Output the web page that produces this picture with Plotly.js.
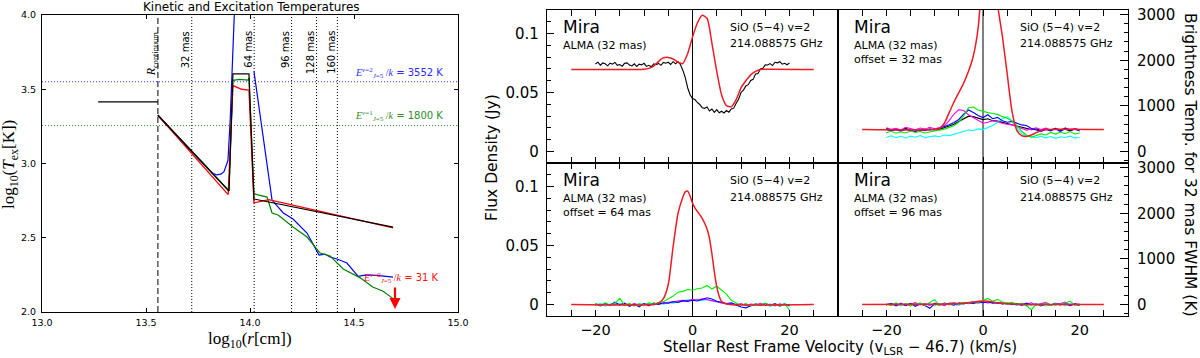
<!DOCTYPE html>
<html>
<head>
<meta charset="utf-8">
<script src="https://cdn.plot.ly/plotly-3.0.1.min.js"></script>
<style>html,body{margin:0;padding:0;background:#fff;}#chart{width:1200px;height:358px;}</style>
</head>
<body>
<div id="chart"></div>
<script>
// ---------------- Left panel data (log10 r [cm] vs log10 T [K]) ----------------
const rContinuum = 13.557;
const masLabels = ['32 mas', '64 mas', '96 mas', '128 mas', '160 mas'];
const masLogR = [13.72, 14.02, 14.20, 14.32, 14.42];
const E_v2 = 3552, E_v1 = 1800, E_v0 = 31;

const starX = [13.27, 13.557];
const starY = [3.415, 3.415];

const blackX = [13.557, 13.899, 13.918, 13.995, 14.019, 14.688];
const blackY = [3.325, 2.815, 3.603, 3.603, 2.761, 2.572];

const redX = [13.557, 13.895, 13.918, 13.94, 13.96, 13.995, 14.019, 14.09, 14.688];
const redY = [3.325, 2.79, 3.525, 3.51, 3.50, 3.495, 2.735, 2.757, 2.566];

const greenX = [13.557, 13.899, 13.918, 13.95, 13.99, 13.995, 14.019, 14.05, 14.082, 14.106, 14.135, 14.207, 14.274, 14.337, 14.385, 14.448, 14.53, 14.59, 14.64, 14.688];
const greenY = [3.325, 2.815, 3.56, 3.566, 3.562, 3.575, 2.795, 2.785, 2.774, 2.667, 2.653, 2.572, 2.505, 2.397, 2.377, 2.29, 2.23, 2.168, 2.14, 2.09];

const blueX = [13.557, 13.79, 13.82, 13.84, 13.86, 13.875, 13.894, 13.905, 13.921, 13.93, null, 14.019, 14.072, 14.085, 14.106, 14.16, 14.207, 14.274, 14.332, 14.36, 14.385, 14.418, 14.466, 14.52, 14.56, 14.62, 14.66, 14.688];
const blueY = [3.325, 2.978, 2.935, 2.923, 2.928, 2.945, 3.02, 3.3, 4.0, 4.2, null, 3.62, 3.09, 2.95, 2.754, 2.667, 2.626, 2.532, 2.384, 2.39, 2.37, 2.357, 2.33, 2.24, 2.25, 2.245, 2.24, 2.235];

// ---------------- Right panels data (velocity km/s vs flux Jy) ----------------
const panelOffsets = ['', 'offset = 32 mas', 'offset = 64 mas', 'offset = 96 mas'];
const jyToK = 25840; // brightness temperature per Jy for 32 mas FWHM beam

const vFine = [-20,-19.5,-19,-18.5,-18,-17.5,-17,-16.5,-16,-15.5,-15,-14.5,-14,-13.5,-13,-12.5,-12,-11.5,-11,-10.5,-10,-9.5,-9,-8.5,-8,-7.5,-7,-6.5,-6,-5.5,-5,-4.5,-4,-3.5,-3,-2.5,-2,-1.5,-1,-0.5,0,0.5,1,1.5,2,2.5,3,3.5,4,4.5,5,5.5,6,6.5,7,7.5,8,8.5,9,9.5,10,10.5,11,11.5,12,12.5,13,13.5,14,14.5,15,15.5,16,16.5,17,17.5,18,18.5,19,19.5,20];
const obsTL = [
 .0742,.0758,.0733,.0751,.0744,.0727,.0749,.0741,.0756,.0731,
 .0738,.0724,.0748,.0752,.0733,.0726,.0744,.0721,.0741,.0735,
 .0748,.0722,.0731,.0719,.0744,.0736,.0747,.0731,.0755,.0749,
 .0757,.0738,.0762,.0744,.0763,.0738,.0690,.0628,.0541,.0482,
 .0449,.0441,.0416,.0399,.0372,.0366,.0378,.0344,.0361,.0333,
 .0356,.0329,.0342,.0327,.0348,.0334,.0361,.0368,.0409,.0444,
 .0501,.0521,.0556,.0567,.0603,.0612,.0657,.0662,.0701,.0706,
 .0735,.0734,.0746,.0729,.0757,.0752,.0762,.0741,.0748,.0736,.0752];

const vObs = [-20,-19,-18,-17,-16,-15,-14,-13,-12,-11,-10,-9,-8,-7,-6,-5,-4,-3,-2,-1,0,1,2,3,4,5,6,7,8,9,10,11,12,13,14,15,16,17,18,19,20];

const blackTR = [.0188,.0176,.0192,.0181,.0196,.0179,.0187,.0174,.0190,.0183,
 .0195,.0189,.0201,.0214,.0232,.0255,.0281,.0300,.0296,.0285,
 .0271,.0278,.0262,.0258,.0247,.0236,.0228,.0214,.0205,.0197,
 .0186,.0193,.0178,.0191,.0183,.0197,.0180,.0189,.0176,.0192,.0185];
const blueTR = [.0195,.0178,.0186,.0172,.0190,.0181,.0169,.0185,.0178,.0192,
 .0183,.0197,.0210,.0228,.0246,.0272,.0318,.0352,.0331,.0305,
 .0288,.0312,.0278,.0290,.0262,.0249,.0256,.0238,.0226,.0221,
 .0196,.0183,.0171,.0188,.0176,.0194,.0170,.0198,.0181,.0189,.0175];
const greenTR = [.0160,.0172,.0155,.0168,.0158,.0174,.0162,.0170,.0157,.0169,
 .0175,.0182,.0190,.0205,.0218,.0250,.0301,.0372,.0378,.0352,
 .0338,.0330,.0322,.0315,.0296,.0282,.0258,.0221,.0172,.0138,
 .0121,.0133,.0150,.0141,.0162,.0148,.0166,.0152,.0170,.0149,.0158];
const magentaTR = [.0201,.0188,.0196,.0183,.0205,.0192,.0185,.0199,.0190,.0206,
 .0194,.0203,.0218,.0262,.0318,.0355,.0348,.0312,.0286,.0262,
 .0240,.0248,.0261,.0255,.0238,.0231,.0226,.0210,.0195,.0182,
 .0190,.0201,.0187,.0198,.0183,.0196,.0185,.0200,.0188,.0194,.0182];
const cyanTR = [.0120,.0134,.0118,.0129,.0115,.0131,.0122,.0136,.0119,.0128,
 .0133,.0126,.0140,.0135,.0148,.0156,.0170,.0182,.0178,.0192,
 .0186,.0205,.0221,.0248,.0279,.0296,.0262,.0198,.0152,.0131,
 .0124,.0118,.0130,.0116,.0127,.0112,.0125,.0119,.0131,.0114,.0122];

const greenBL = [.0012,-.0008,.0015,-.0004,.0009,.0052,-.0006,.0011,-.0012,.0007,
 -.0003,.0014,.0004,.0018,.0025,.0048,.0072,.0105,.0112,.0128,
 .0121,.0134,.0140,.0162,.0131,.0155,.0118,.0088,.0035,.0012,
 -.0005,.0009,-.0011,.0006,-.0002,.0013,-.0009,.0004,-.0014,.0008,-.0048];
const blueBL = [.0006,-.0012,.0009,-.0005,.0021,-.0003,.0010,-.0016,.0004,-.0020,
 .0008,-.0007,.0012,.0002,.0015,.0011,.0024,.0019,.0031,.0027,
 .0036,.0030,.0042,.0058,.0047,.0028,.0019,.0009,.0014,-.0004,
 -.0021,-.0028,-.0010,.0006,-.0008,.0011,-.0005,.0009,-.0013,.0004,-.0009];
const cyanBL = [-.0008,.0010,-.0014,.0006,-.0003,.0013,-.0009,.0004,-.0011,.0008,
 -.0002,.0011,-.0006,.0009,.0003,.0016,.0012,.0025,.0029,.0041,
 .0038,.0046,.0035,.0044,.0031,.0022,.0014,.0006,-.0004,.0009,
 -.0007,.0005,-.0012,.0002,-.0010,.0007,-.0015,.0003,-.0006,.0010,-.0017];
const magentaBL = [.0004,-.0006,.0011,-.0010,.0007,-.0002,.0013,-.0007,.0009,-.0004,
 .0006,-.0011,.0010,.0005,.0012,.0018,.0023,.0030,.0037,.0033,
 .0045,.0039,.0048,.0041,.0034,.0025,.0013,.0008,.0002,-.0006,
 .0008,-.0009,.0005,-.0003,.0010,-.0008,.0004,-.0011,.0007,-.0004,.0002];

const greenBR = [.0005,-.0010,.0012,-.0004,.0008,-.0013,.0006,.0010,-.0006,.0015,
 .0042,-.0008,.0011,-.0003,.0014,.0007,.0019,.0012,.0026,.0018,
 .0035,.0052,.0028,.0044,.0021,.0012,.0018,.0003,.0011,-.0008,
 -.0045,.0006,-.0005,.0012,-.0009,.0008,-.0004,.0010,.0030,-.0006,.0004];
const blueBR = [-.0004,.0009,-.0012,.0006,-.0007,.0011,-.0015,.0004,-.0009,-.0032,
 .0008,-.0005,.0012,.0001,-.0006,.0014,.0006,.0017,.0009,.0021,
 .0015,.0024,.0011,.0018,.0006,.0013,-.0002,.0009,-.0007,.0012,
 -.0004,.0007,-.0011,.0005,-.0006,.0010,-.0003,.0008,-.0010,.0004,-.0005];
const cyanBR = [.0008,-.0005,.0014,-.0011,.0003,.0009,-.0006,.0015,-.0003,.0007,
 -.0012,.0010,-.0004,.0013,.0005,-.0007,.0012,.0020,.0008,.0024,
 .0017,.0022,.0013,.0007,.0016,.0002,.0010,-.0009,.0005,-.0013,
 .0003,-.0006,.0011,-.0014,.0002,-.0008,.0009,-.0012,.0006,-.0003,-.0010];
const magentaBR = [-.0002,.0011,-.0007,.0013,-.0010,.0005,.0016,-.0004,.0009,-.0008,
 .0012,.0003,-.0009,.0010,.0017,.0004,.0015,.0008,.0019,.0011,
 .0022,.0014,.0020,.0009,.0017,.0005,.0013,-.0002,.0011,.0004,
 .0015,-.0005,.0008,.0018,-.0003,.0010,.0006,.0021,-.0004,.0009,.0003];

const vModelTL = [-25,-12,-10,-9,-8,-7,-6,-5,-4,-3,-2,-1,0,1,2,3,4,5,6,7,8,9,10,11,12,13,14,15,25];
const modelTL = [.0695,.0695,.0697,.0705,.0725,.0765,.0795,.0798,.0785,.0757,.0745,.083,.097,.109,.1155,.113,.092,.068,.048,.039,.038,.044,.054,.060,.065,.068,.0695,.0697,.0695];
const vModelTR = [-25,-10,-9,-8,-7,-6,-5,-4,-3,-2,-1,-0.5,0,1,2,3,4,5,6,7,8,9,10,11,12,13,25];
const modelTR = [.0186,.0186,.0195,.024,.033,.042,.050,.058,.068,.081,.105,.13,.16,.19,.17,.125,.098,.066,.034,.018,.0135,.0128,.014,.016,.0178,.0186,.0186];
const vModelBL = [-25,-8,-7,-6,-5,-4,-3,-2,-1.5,-1,-0.5,0,0.5,1,2,3,3.5,4,4.5,5,5.5,6,7,25];
const modelBL = [0,0,.0012,.005,.017,.049,.077,.091,.0955,.0962,.092,.086,.082,.079,.073,.064,.056,.043,.028,.015,.007,.0025,.0005,0];
const vModelBR = [-25,-10,-6,-4,-2,-1,0,1,2,3,5,8,25];
const modelBR = [0,.0002,.0006,.0012,.0022,.0028,.0031,.0029,.0022,.0014,.0006,.0001,0];

const velTicks = [-20, 0, 20];
const velTickText = ['−20', '0', '20'];

// ---------------- Build figure ----------------
const W = 1200, H = 358;
const px = x => x / W, py = y => 1 - y / H;
const RED = '#ee1c24';

function ln(x, y, xa, ya, color, width, shape) {
  const t = {type:'scatter', mode:'lines', x:x, y:y, xaxis:xa, yaxis:ya,
    line:{color:color, width:width, shape:shape || 'linear'}, hoverinfo:'skip',
    showlegend:false, connectgaps:false};
  if (shape === 'spline') t.line.smoothing = 0.6;
  return t;
}

const data = [
  ln(blueX, blueY, 'x', 'y', '#0000ff', 1.2),
  ln(greenX, greenY, 'x', 'y', '#008000', 1.2),
  ln(redX, redY, 'x', 'y', '#ff0000', 1.3),
  ln(blackX, blackY, 'x', 'y', '#000000', 1.2),
  ln(starX, starY, 'x', 'y', '#000000', 1.2),
  // TL
  ln(vFine, obsTL, 'x2', 'y2', '#000000', 1.1),
  ln(vModelTL, modelTL, 'x2', 'y2', RED, 1.5, 'spline'),
  // TR
  ln(vObs, blackTR, 'x3', 'y3', '#000000', 1.1),
  ln(vObs, cyanTR, 'x3', 'y3', '#00ffff', 1.1),
  ln(vObs, magentaTR, 'x3', 'y3', '#ff00ff', 1.1),
  ln(vObs, blueTR, 'x3', 'y3', '#0000ff', 1.1),
  ln(vObs, greenTR, 'x3', 'y3', '#00ee00', 1.1),
  ln(vModelTR, modelTR, 'x3', 'y3', RED, 1.5, 'spline'),
  // BL
  ln(vObs, cyanBL, 'x4', 'y4', '#00ffff', 1.1),
  ln(vObs, magentaBL, 'x4', 'y4', '#ff00ff', 1.1),
  ln(vObs, blueBL, 'x4', 'y4', '#0000ff', 1.1),
  ln(vObs, greenBL, 'x4', 'y4', '#00ee00', 1.1),
  ln(vModelBL, modelBL, 'x4', 'y4', RED, 1.5, 'spline'),
  // BR
  ln(vObs, cyanBR, 'x5', 'y5', '#00ffff', 1.1),
  ln(vObs, magentaBR, 'x5', 'y5', '#ff00ff', 1.1),
  ln(vObs, blueBR, 'x5', 'y5', '#0000ff', 1.1),
  ln(vObs, greenBR, 'x5', 'y5', '#00ee00', 1.1),
  ln(vModelBR, modelBR, 'x5', 'y5', RED, 1.5, 'spline'),
  // carriers for temperature axes
  {type:'scatter', mode:'lines', x:[null], y:[null], xaxis:'x3', yaxis:'y6', showlegend:false, hoverinfo:'skip'},
  {type:'scatter', mode:'lines', x:[null], y:[null], xaxis:'x5', yaxis:'y7', showlegend:false, hoverinfo:'skip'}
];

const leftFont = {family:'DejaVu Sans', size:9.5, color:'#000'};
const rightFont = {family:'DejaVu Sans', size:15, color:'#000'};
const fluxRange = [-0.0097, 0.12];
const tempRange = [fluxRange[0] * jyToK, fluxRange[1] * jyToK];

const xLeft = {domain:[px(42), px(458)], range:[13, 15], anchor:'y', showline:true, linecolor:'#000', linewidth:1,
  mirror:'ticks', ticks:'inside', ticklen:4, tickcolor:'#000', showgrid:false, zeroline:false,
  tickvals:[13, 13.5, 14, 14.5, 15], ticktext:['13.0','13.5','14.0','14.5','15.0'], tickfont:leftFont, ticklabelstandoff:2};
const yLeft = {domain:[py(312), py(15)], range:[2, 4], anchor:'x', showline:true, linecolor:'#000', linewidth:1,
  mirror:'ticks', ticks:'inside', ticklen:4, tickcolor:'#000', showgrid:false, zeroline:false,
  tickvals:[2, 2.5, 3, 3.5, 4], ticktext:['2.0','2.5','3.0','3.5','4.0'], tickfont:leftFont, ticklabelstandoff:3};

function xR(dom, anchor, labels) {
  return {domain:dom, anchor:anchor, range:[-30, 30], showline:true, linecolor:'#000', linewidth:1.1,
    mirror:'ticks', ticks:'inside', ticklen:6, tickcolor:'#000', showgrid:false, zeroline:false,
    tickvals:velTicks, ticktext:velTickText, showticklabels:labels, tickfont:{family:'DejaVu Sans', size:14.5, color:'#000'}, ticklabelstandoff:0,
    minor:{ticks:'inside', ticklen:6, tickcolor:'#000', tickmode:'linear', tick0:0, dtick:5, showgrid:false}};
}
function yR(dom, anchor, labels) {
  const a = {domain:dom, anchor:anchor, range:fluxRange, showline:true, linecolor:'#000', linewidth:1.1,
    mirror:true, showgrid:false, zeroline:false, tickfont:rightFont};
  if (labels) {
    Object.assign(a, {ticks:'inside', ticklen:7, tickcolor:'#000', tickvals:[0, 0.05, 0.1], ticktext:['0','0.05','0.1'],
      ticklabelstandoff:4, minor:{ticks:'inside', ticklen:4, tickcolor:'#000', tickmode:'linear', tick0:0, dtick:0.01, showgrid:false}});
  } else {
    Object.assign(a, {ticks:'', showticklabels:false});
  }
  return a;
}
function yT(over, anchor) {
  return {overlaying:over, anchor:anchor, side:'right', range:tempRange, showline:false, showgrid:false, zeroline:false,
    ticks:'inside', ticklen:8, tickcolor:'#000', tickvals:[0, 1000, 2000, 3000], ticktext:['0','1000','2000','3000'],
    tickfont:rightFont, ticklabelstandoff:8,
    minor:{ticks:'inside', ticklen:4, tickcolor:'#000', tickmode:'linear', tick0:0, dtick:200, showgrid:false}};
}

const colL = [px(547), px(838)], colR = [px(838), px(1128)];
const rowT = [py(163), py(10)], rowB = [py(316), py(163)];

const shapes = [];
const dot = '1px,2px';
shapes.push({type:'line', layer:'below', xref:'x', yref:'y domain', x0:rContinuum, x1:rContinuum, y0:0, y1:1,
  line:{color:'#555', width:1.5, dash:'6px,3px'}});
masLogR.forEach(r => shapes.push({type:'line', layer:'below', xref:'x', yref:'y domain', x0:r, x1:r, y0:0, y1:1,
  line:{color:'#000', width:1, dash:dot}}));
shapes.push({type:'line', layer:'below', xref:'x domain', yref:'y', x0:0, x1:1, y0:Math.log10(E_v2), y1:Math.log10(E_v2),
  line:{color:'#3030ff', width:1, dash:dot}});
shapes.push({type:'line', layer:'below', xref:'x domain', yref:'y', x0:0, x1:1, y0:Math.log10(E_v1), y1:Math.log10(E_v1),
  line:{color:'#2e8b2e', width:1, dash:dot}});
['2','3','4','5'].forEach(n => shapes.push({type:'line', layer:'below', xref:'x' + n, yref:'y' + n + ' domain',
  x0:0, x1:0, y0:0, y1:1, line:{color:'#000', width:1}}));

const ann = [];
function txt(o) { ann.push(Object.assign({showarrow:false, xref:'paper', yref:'paper'}, o)); }
// left panel texts
txt({x:px(251), y:py(7), text:'Kinetic and Excitation Temperatures', font:{family:'DejaVu Sans', size:12, color:'#000'}, xanchor:'center', yanchor:'middle'});
txt({x:px(10), y:py(165), text:'log<sub>10</sub>(<i>T</i><sub>ex</sub>[K])', textangle:-90, font:{family:'Liberation Serif', size:17, color:'#000'}, xanchor:'center', yanchor:'middle'});
txt({x:px(250), y:py(340), text:'log<sub>10</sub>(<i>r</i>[cm])', font:{family:'Liberation Serif', size:17, color:'#000'}, xanchor:'center', yanchor:'middle'});
txt({xref:'x', x:rContinuum, xshift:-6, y:py(29), yanchor:'top', xanchor:'center', textangle:-90,
  text:'<i>R</i><sub>continuum</sub>', font:{family:'Liberation Serif', size:12, color:'#000'}});
masLabels.forEach((m, i) => txt({xref:'x', x:masLogR[i], xshift:-6, y:py(29), yanchor:'top', xanchor:'center', textangle:-90,
  text:m, font:{family:'DejaVu Sans', size:10, color:'#000'}}));
function eLabel(v, val) {
  return '<span style="font-family:Liberation Serif"><i>E</i><sup><i>v</i>=' + v + '</sup><sub><i>J</i>=5</sub> /<i>k</i></span> = ' + val + ' K';
}
txt({xref:'x', yref:'y', x:14.495, y:Math.log10(E_v2) + 0.058, xanchor:'left', yanchor:'middle', text:eLabel(2, E_v2), font:{family:'DejaVu Sans', size:10, color:'#2a2aff'}});
txt({xref:'x', yref:'y', x:14.495, y:Math.log10(E_v1) + 0.064, xanchor:'left', yanchor:'middle', text:eLabel(1, E_v1), font:{family:'DejaVu Sans', size:10, color:'#2e8b2e'}});
txt({xref:'x', yref:'y', x:14.534, y:2.229, xanchor:'left', yanchor:'middle', text:eLabel(0, E_v0), font:{family:'DejaVu Sans', size:10, color:'#ff1010'}});
ann.push({xref:'x', yref:'y', x:14.697, y:2.02, ax:0, ay:-23, showarrow:true, arrowhead:2, arrowsize:1, arrowwidth:2.2, arrowcolor:'#ff0000', text:''});

// right panel texts
const lefts = [547, 838, 547, 838], rights = [838, 1128, 838, 1128], tops = [10, 10, 163, 163];
for (let i = 0; i < 4; i++) {
  const f = s => ({family:'DejaVu Sans', size:s, color:'#000'});
  txt({x:px(lefts[i] + 14), y:py(tops[i] + 17), text:'Mira', xanchor:'left', yanchor:'middle', font:f(17)});
  txt({x:px(lefts[i] + 14), y:py(tops[i] + 35), text:'ALMA (32 mas)', xanchor:'left', yanchor:'middle', font:f(11)});
  if (panelOffsets[i]) txt({x:px(lefts[i] + 14), y:py(tops[i] + 49), text:panelOffsets[i], xanchor:'left', yanchor:'middle', font:f(11)});
  txt({x:px(rights[i] - 110), y:py(tops[i] + 17), text:'SiO (5−4) v=2', xanchor:'left', yanchor:'middle', font:f(11)});
  txt({x:px(rights[i] - 110), y:py(tops[i] + 34), text:'214.088575 GHz', xanchor:'left', yanchor:'middle', font:f(11)});
}
txt({x:px(492), y:py(157), text:'Flux Density (Jy)', textangle:-90, xanchor:'center', yanchor:'middle', font:{family:'DejaVu Sans', size:15.5, color:'#000'}});
txt({x:px(1190), y:py(165), text:'Brightness Temp. for 32 mas FWHM (K)', textangle:90, xanchor:'center', yanchor:'middle', font:{family:'DejaVu Sans', size:15.5, color:'#000'}});
txt({x:px(840), y:py(347), text:'Stellar Rest Frame Velocity (v<sub>LSR</sub> − 46.7) (km/s)', xanchor:'center', yanchor:'middle', font:{family:'DejaVu Sans', size:15, color:'#000'}});

const layout = {
  width:W, height:H, margin:{l:0, r:0, t:0, b:0}, paper_bgcolor:'#fff', plot_bgcolor:'rgba(0,0,0,0)',
  showlegend:false, font:{family:'DejaVu Sans', color:'#000'},
  xaxis:xLeft, yaxis:yLeft,
  xaxis2:xR(colL, 'y2', false), yaxis2:yR(rowT, 'x2', true),
  xaxis3:xR(colR, 'y3', false), yaxis3:yR(rowT, 'x3', false),
  xaxis4:xR(colL, 'y4', true), yaxis4:yR(rowB, 'x4', true),
  xaxis5:xR(colR, 'y5', true), yaxis5:yR(rowB, 'x5', false),
  yaxis6:yT('y3', 'x3'), yaxis7:yT('y5', 'x5'),
  shapes:shapes, annotations:ann
};

Plotly.newPlot('chart', data, layout, {displayModeBar:false, staticPlot:true});
</script>
</body>
</html>
